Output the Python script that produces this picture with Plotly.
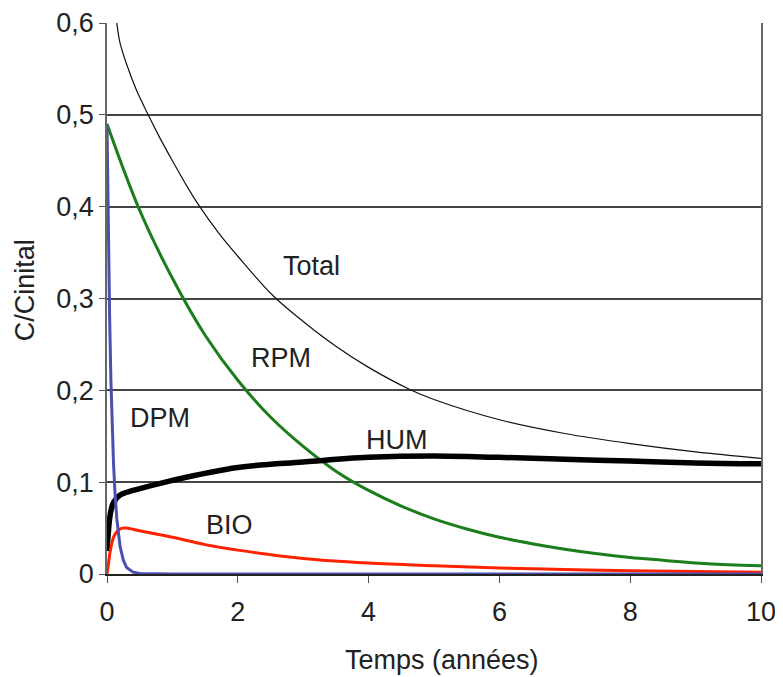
import plotly.graph_objects as go

# Time (years) and carbon fractions
t_dpm = [0, 0.02, 0.04, 0.06, 0.08, 0.10, 0.12, 0.15, 0.20, 0.25, 0.30, 0.40, 0.50, 1.0, 10.0]
dpm = [0.49, 0.37, 0.28, 0.21, 0.16, 0.12, 0.091, 0.060, 0.030, 0.015, 0.007, 0.002, 0.0005, 0.0, 0.0]

t_rpm = [0, 0.5, 1, 1.5, 2, 2.5, 3, 3.5, 4, 4.5, 5, 5.5, 6, 6.5, 7, 7.5, 8, 8.5, 9, 9.5, 10]
rpm = [0.49, 0.396, 0.322, 0.260, 0.211, 0.171, 0.139, 0.112, 0.091, 0.074, 0.060, 0.049,
       0.040, 0.033, 0.027, 0.022, 0.018, 0.015, 0.012, 0.010, 0.009]

t_hum = [0, 0.02, 0.05, 0.1, 0.2, 0.3, 0.5, 1, 2, 3, 4, 5, 6, 7, 8, 9, 10]
hum = [0.025, 0.045, 0.065, 0.078, 0.086, 0.089, 0.093, 0.102, 0.116, 0.122, 0.127, 0.1285,
       0.127, 0.125, 0.123, 0.121, 0.120]

t_bio = [0, 0.02, 0.05, 0.1, 0.15, 0.2, 0.25, 0.3, 0.5, 1, 1.5, 2, 3, 4, 5, 6, 7, 8, 9, 10]
bio = [0.0, 0.010, 0.025, 0.040, 0.046, 0.049, 0.050, 0.050, 0.047, 0.040, 0.032, 0.026,
       0.017, 0.012, 0.009, 0.0065, 0.005, 0.0035, 0.0027, 0.002]

t_tot = [0.0, 0.05, 0.1, 0.15, 0.2, 0.3, 0.45, 0.63, 0.8, 1.0, 1.2, 1.39, 1.7, 2.0, 2.54,
         3.0, 3.5, 4.0, 4.63, 5.0, 6.0, 7.0, 8.0, 9.0, 10.0]
total = [0.80, 0.70, 0.635, 0.600, 0.578, 0.555, 0.527, 0.500, 0.476, 0.450, 0.425, 0.403,
         0.372, 0.346, 0.303, 0.275, 0.248, 0.225, 0.201, 0.190, 0.168, 0.153, 0.142, 0.133, 0.126]

labels = ["Total", "RPM", "DPM", "HUM", "BIO"]
label_x = [3.13, 2.66, 0.81, 4.43, 1.87]
label_y = [0.335, 0.235, 0.170, 0.146, 0.053]

x_ticks = [0, 2, 4, 6, 8, 10]
y_ticks = [0, 0.1, 0.2, 0.3, 0.4, 0.5, 0.6]

FONT = "Liberation Sans, Arial, sans-serif"
TXT = "#222222"
FS = 27

fig = go.Figure()
fig.add_trace(go.Scatter(x=t_tot, y=total, mode="lines", line=dict(color="#111111", width=1.2),
                         line_shape="spline", name="Total"))
fig.add_trace(go.Scatter(x=t_rpm, y=rpm, mode="lines", line=dict(color="#1b7d1b", width=3),
                         line_shape="spline", name="RPM"))
fig.add_trace(go.Scatter(x=t_hum, y=hum, mode="lines", line=dict(color="#000000", width=5.5),
                         line_shape="spline", name="HUM"))
fig.add_trace(go.Scatter(x=t_bio, y=bio, mode="lines", line=dict(color="#ff2200", width=3),
                         line_shape="spline", name="BIO"))
fig.add_trace(go.Scatter(x=t_dpm, y=dpm, mode="lines", line=dict(color="#4b4fb0", width=3),
                         name="DPM"))

for txt, lx, ly in zip(labels, label_x, label_y):
    fig.add_annotation(x=lx, y=ly, text=txt, showarrow=False,
                       font=dict(family=FONT, size=FS, color=TXT))

# axis titles
fig.add_annotation(xref="paper", yref="paper", x=0.512, y=0, yshift=-86, yanchor="middle",
                   text="Temps (années)", showarrow=False,
                   font=dict(family=FONT, size=FS, color=TXT))
fig.add_annotation(xref="paper", yref="paper", x=0, xshift=-82, y=0.515, xanchor="center",
                   yanchor="middle", textangle=-90, text="C/Cinital", showarrow=False,
                   font=dict(family=FONT, size=FS, color=TXT))

fig.update_layout(
    width=783, height=677,
    margin=dict(l=99, r=30, t=15, b=111),
    paper_bgcolor="white", plot_bgcolor="white",
    showlegend=False,
    separators=", ",
    font=dict(family=FONT, size=FS, color=TXT),
    xaxis=dict(range=[0, 10], tickvals=x_ticks, showgrid=False, zeroline=False, automargin=False,
               showline=True, linecolor="#222222", linewidth=1.5,
               ticks="outside", ticklen=7, tickcolor="#555555", ticklabelstandoff=6),
    yaxis=dict(range=[0, 0.6], tickvals=y_ticks, showgrid=True, gridcolor="#444444", gridwidth=1.5,
               zeroline=False, showline=True, linecolor="#666666", linewidth=1.5, mirror=True,
               automargin=False, ticks="outside", ticklen=6, tickcolor="#555555"),
)

fig.write_html("out.html")
